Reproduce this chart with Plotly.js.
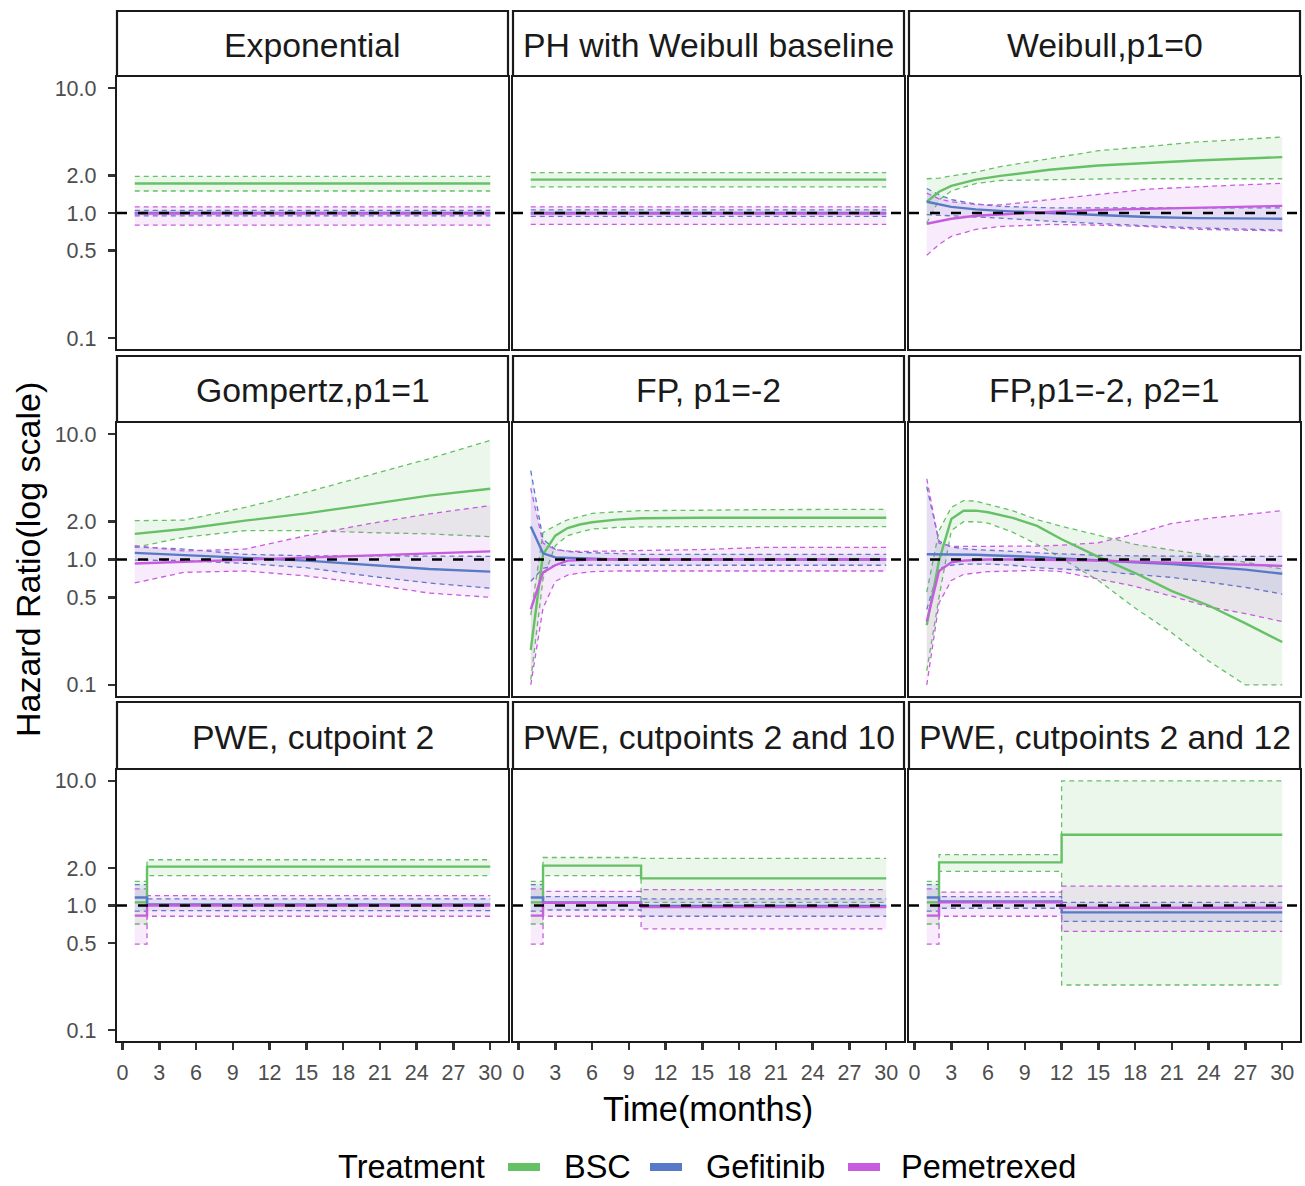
<!DOCTYPE html>
<html>
<head>
<meta charset="utf-8">
<script src="https://cdn.plot.ly/plotly-3.0.1.min.js"></script>
<style>html,body{margin:0;padding:0;background:#fff;}#chart{width:1305px;height:1186px;}</style>
</head>
<body>
<div id="chart"></div>
<script>
// ---------------- DATA ----------------
const panelTitles = ['Exponential', 'PH with Weibull baseline', 'Weibull,p1=0',
  'Gompertz,p1=1', 'FP, p1=-2', 'FP,p1=-2, p2=1',
  'PWE, cutpoint 2', 'PWE, cutpoints 2 and 10', 'PWE, cutpoints 2 and 12'];
const treatments = ['BSC', 'Gefitinib', 'Pemetrexed'];
const xTicks = [0, 3, 6, 9, 12, 15, 18, 21, 24, 27, 30];
const yTickVals = [0.1, 0.5, 1, 2, 10];
const yTickText = ['0.1', '0.5', '1.0', '2.0', '10.0'];
const refHR = 1;

// Exponential
const expoTime = [1, 30];
const expoBSC = [1.72, 1.72], expoBSCLo = [1.50, 1.50], expoBSCHi = [1.96, 1.96];
const expoGef = [1.00, 1.00], expoGefLo = [0.95, 0.95], expoGefHi = [1.05, 1.05];
const expoPem = [0.99, 0.99], expoPemLo = [0.80, 0.80], expoPemHi = [1.12, 1.12];

// PH with Weibull baseline
const phwTime = [1, 30];
const phwBSC = [1.85, 1.85], phwBSCLo = [1.62, 1.62], phwBSCHi = [2.10, 2.10];
const phwGef = [1.00, 1.00], phwGefLo = [0.94, 0.94], phwGefHi = [1.06, 1.06];
const phwPem = [0.99, 0.99], phwPemLo = [0.81, 0.81], phwPemHi = [1.12, 1.12];

// Weibull, p1=0
const weibTime = [1, 2, 3, 5, 7, 11, 15, 19, 23, 30];
const weibBSC   = [1.23, 1.48, 1.65, 1.85, 1.98, 2.22, 2.40, 2.52, 2.63, 2.80];
const weibBSCLo = [0.83, 1.27, 1.50, 1.72, 1.82, 1.85, 1.87, 1.88, 1.88, 1.88];
const weibBSCHi = [1.88, 1.90, 1.98, 2.12, 2.35, 2.72, 3.15, 3.40, 3.70, 4.05];
const weibGef   = [1.23, 1.17, 1.12, 1.07, 1.04, 1.00, 0.96, 0.93, 0.91, 0.90];
const weibGefLo = [0.97, 0.96, 0.95, 0.93, 0.91, 0.86, 0.82, 0.79, 0.76, 0.73];
const weibGefHi = [1.57, 1.40, 1.28, 1.18, 1.13, 1.10, 1.10, 1.10, 1.10, 1.10];
const weibPem   = [0.82, 0.86, 0.90, 0.95, 0.975, 1.02, 1.06, 1.08, 1.10, 1.14];
const weibPemLo = [0.46, 0.56, 0.65, 0.74, 0.78, 0.81, 0.80, 0.78, 0.74, 0.72];
const weibPemHi = [1.44, 1.30, 1.23, 1.17, 1.16, 1.28, 1.42, 1.55, 1.62, 1.73];

// Gompertz, p1=1
const gompTime = [1, 5, 10, 15, 20, 25, 30];
const gompBSC   = [1.60, 1.75, 2.04, 2.33, 2.74, 3.23, 3.66];
const gompBSCLo = [1.25, 1.50, 1.70, 1.70, 1.64, 1.60, 1.52];
const gompBSCHi = [2.04, 2.06, 2.60, 3.44, 4.67, 6.35, 8.90];
const gompGef   = [1.13, 1.08, 1.03, 0.98, 0.906, 0.84, 0.80];
const gompGefLo = [0.99, 0.98, 0.93, 0.86, 0.74, 0.65, 0.59];
const gompGefHi = [1.26, 1.21, 1.10, 1.07, 1.07, 1.06, 1.06];
const gompPem   = [0.93, 0.96, 1.00, 1.04, 1.08, 1.13, 1.16];
const gompPemLo = [0.65, 0.79, 0.81, 0.74, 0.64, 0.54, 0.50];
const gompPemHi = [1.29, 1.17, 1.21, 1.55, 1.92, 2.31, 2.69];

// FP, p1=-2
const fp1Time = [1, 2, 3, 4, 5, 6, 8, 10, 15, 20, 30];
const fp1BSC   = [0.19, 1.10, 1.55, 1.78, 1.90, 1.98, 2.08, 2.13, 2.15, 2.15, 2.15];
const fp1BSCLo = [0.11, 0.70, 1.29, 1.55, 1.65, 1.75, 1.80, 1.82, 1.83, 1.83, 1.83];
const fp1BSCHi = [0.36, 1.64, 1.86, 2.07, 2.20, 2.33, 2.40, 2.45, 2.47, 2.50, 2.51];
const fp1Gef   = [1.83, 1.12, 1.04, 1.03, 1.02, 1.01, 1.00, 1.00, 1.00, 1.00, 1.00];
const fp1GefLo = [0.67, 0.85, 0.90, 0.90, 0.90, 0.90, 0.90, 0.90, 0.90, 0.90, 0.90];
const fp1GefHi = [5.10, 1.45, 1.20, 1.16, 1.14, 1.13, 1.11, 1.10, 1.10, 1.10, 1.10];
const fp1Pem   = [0.40, 0.79, 0.90, 0.98, 0.99, 1.00, 1.00, 1.00, 1.00, 1.00, 1.00];
const fp1PemLo = [0.10, 0.41, 0.67, 0.75, 0.78, 0.80, 0.81, 0.81, 0.81, 0.81, 0.81];
const fp1PemHi = [3.70, 1.35, 1.20, 1.17, 1.16, 1.16, 1.17, 1.18, 1.20, 1.25, 1.25];

// FP, p1=-2, p2=1
const fp2Time = [1, 2, 3, 4, 5, 6, 8, 10, 12, 15, 18, 21, 24, 27, 30];
const fp2BSC   = [0.30, 0.98, 2.10, 2.45, 2.45, 2.38, 2.15, 1.85, 1.45, 1.05, 0.78, 0.56, 0.43, 0.31, 0.22];
const fp2BSCLo = [0.13, 0.50, 1.70, 2.00, 2.00, 1.95, 1.65, 1.32, 1.02, 0.68, 0.41, 0.26, 0.155, 0.10, 0.10];
const fp2BSCHi = [0.55, 1.70, 2.60, 2.95, 2.92, 2.75, 2.45, 2.08, 1.84, 1.56, 1.32, 1.19, 1.08, 0.95, 0.84];
const fp2Gef   = [1.10, 1.10, 1.10, 1.10, 1.09, 1.08, 1.07, 1.05, 1.02, 0.98, 0.95, 0.92, 0.88, 0.83, 0.77];
const fp2GefLo = [0.40, 0.85, 0.90, 0.92, 0.92, 0.92, 0.90, 0.86, 0.84, 0.81, 0.76, 0.72, 0.66, 0.60, 0.53];
const fp2GefHi = [3.80, 1.40, 1.26, 1.22, 1.20, 1.19, 1.16, 1.13, 1.11, 1.08, 1.07, 1.06, 1.06, 1.06, 1.06];
const fp2Pem   = [0.32, 0.81, 0.95, 0.98, 0.99, 1.00, 1.00, 1.00, 0.99, 0.98, 0.96, 0.95, 0.93, 0.91, 0.89];
const fp2PemLo = [0.10, 0.45, 0.68, 0.76, 0.78, 0.80, 0.81, 0.82, 0.80, 0.70, 0.61, 0.51, 0.42, 0.37, 0.32];
const fp2PemHi = [4.40, 1.35, 1.27, 1.27, 1.28, 1.28, 1.28, 1.28, 1.30, 1.36, 1.60, 1.94, 2.13, 2.27, 2.45];

// PWE, cutpoint 2
const pwe1Time = [1, 2, 30];
const pwe1BSC = [1.06, 2.05, 2.05], pwe1BSCLo = [0.71, 1.74, 1.74], pwe1BSCHi = [1.56, 2.33, 2.33];
const pwe1Gef = [1.16, 1.02, 1.02], pwe1GefLo = [0.90, 0.91, 0.91], pwe1GefHi = [1.47, 1.13, 1.13];
const pwe1Pem = [0.83, 1.00, 1.00], pwe1PemLo = [0.49, 0.82, 0.82], pwe1PemHi = [1.36, 1.20, 1.20];

// PWE, cutpoints 2 and 10
const pwe2Time = [1, 2, 10, 30];
const pwe2BSC = [1.06, 2.09, 1.65, 1.65], pwe2BSCLo = [0.71, 1.74, 1.06, 1.06], pwe2BSCHi = [1.56, 2.43, 2.39, 2.39];
const pwe2Gef = [1.16, 1.06, 0.99, 0.99], pwe2GefLo = [0.90, 0.92, 0.82, 0.82], pwe2GefHi = [1.47, 1.18, 1.13, 1.13];
const pwe2Pem = [0.83, 1.05, 0.97, 0.97], pwe2PemLo = [0.49, 0.82, 0.65, 0.65], pwe2PemHi = [1.36, 1.30, 1.34, 1.34];

// PWE, cutpoints 2 and 12
const pwe3Time = [1, 2, 12, 30];
const pwe3BSC = [1.06, 2.22, 3.70, 3.70], pwe3BSCLo = [0.71, 1.88, 0.23, 0.23], pwe3BSCHi = [1.56, 2.56, 10.0, 10.0];
const pwe3Gef = [1.16, 1.08, 0.88, 0.88], pwe3GefLo = [0.90, 0.95, 0.745, 0.745], pwe3GefHi = [1.47, 1.18, 1.06, 1.06];
const pwe3Pem = [0.83, 1.06, 0.96, 0.96], pwe3PemLo = [0.49, 0.82, 0.62, 0.62], pwe3PemHi = [1.36, 1.28, 1.43, 1.43];

// ---------------- ASSEMBLY ----------------
const panels = [
  {t: expoTime, step: false, s: [[expoBSC, expoBSCLo, expoBSCHi], [expoGef, expoGefLo, expoGefHi], [expoPem, expoPemLo, expoPemHi]]},
  {t: phwTime, step: false, s: [[phwBSC, phwBSCLo, phwBSCHi], [phwGef, phwGefLo, phwGefHi], [phwPem, phwPemLo, phwPemHi]]},
  {t: weibTime, step: false, s: [[weibBSC, weibBSCLo, weibBSCHi], [weibGef, weibGefLo, weibGefHi], [weibPem, weibPemLo, weibPemHi]]},
  {t: gompTime, step: false, s: [[gompBSC, gompBSCLo, gompBSCHi], [gompGef, gompGefLo, gompGefHi], [gompPem, gompPemLo, gompPemHi]]},
  {t: fp1Time, step: false, s: [[fp1BSC, fp1BSCLo, fp1BSCHi], [fp1Gef, fp1GefLo, fp1GefHi], [fp1Pem, fp1PemLo, fp1PemHi]]},
  {t: fp2Time, step: false, s: [[fp2BSC, fp2BSCLo, fp2BSCHi], [fp2Gef, fp2GefLo, fp2GefHi], [fp2Pem, fp2PemLo, fp2PemHi]]},
  {t: pwe1Time, step: true, s: [[pwe1BSC, pwe1BSCLo, pwe1BSCHi], [pwe1Gef, pwe1GefLo, pwe1GefHi], [pwe1Pem, pwe1PemLo, pwe1PemHi]]},
  {t: pwe2Time, step: true, s: [[pwe2BSC, pwe2BSCLo, pwe2BSCHi], [pwe2Gef, pwe2GefLo, pwe2GefHi], [pwe2Pem, pwe2PemLo, pwe2PemHi]]},
  {t: pwe3Time, step: true, s: [[pwe3BSC, pwe3BSCLo, pwe3BSCHi], [pwe3Gef, pwe3GefLo, pwe3GefHi], [pwe3Pem, pwe3PemLo, pwe3PemHi]]}
];

const lineColors = ['rgb(102,192,102)', 'rgb(88,122,198)', 'rgb(199,92,222)'];
const fillColors = ['rgba(102,192,102,0.12)', 'rgba(88,122,198,0.12)', 'rgba(199,92,222,0.12)'];

const W = 1305, H = 1186;
const px = v => v / W;
const py = v => 1 - v / H;
const colX = [[117, 508], [513, 904], [909, 1300]];
const rowY = [[77, 349], [423, 696], [770, 1041]];
const stripY = [[11, 76], [356, 422], [702, 769]];
const xRange = [-0.45, 31.45];
const yRange = [-1.088, 1.088];
const FONT = '"Liberation Sans", Arial, sans-serif';

const traces = [];
const layout = {
  width: W, height: H,
  margin: {l: 0, r: 0, t: 0, b: 0},
  paper_bgcolor: '#ffffff', plot_bgcolor: '#ffffff',
  showlegend: false,
  font: {family: FONT, color: '#000'},
  shapes: [], annotations: []
};

panels.forEach((p, i) => {
  const k = i + 1;
  const xa = k === 1 ? 'x' : 'x' + k;
  const ya = k === 1 ? 'y' : 'y' + k;
  const row = Math.floor(i / 3), col = i % 3;
  const shape = p.step ? 'hv' : 'linear';
  // ribbons + dashed bounds
  p.s.forEach((ser, j) => {
    traces.push({x: p.t, y: ser[1], xaxis: xa, yaxis: ya, type: 'scatter', mode: 'lines',
      line: {color: lineColors[j], width: 1.3, dash: '5px,4px', shape: shape}, hoverinfo: 'skip'});
    traces.push({x: p.t, y: ser[2], xaxis: xa, yaxis: ya, type: 'scatter', mode: 'lines',
      fill: 'tonexty', fillcolor: fillColors[j],
      line: {color: lineColors[j], width: 1.3, dash: '5px,4px', shape: shape}, hoverinfo: 'skip'});
  });
  // estimates
  p.s.forEach((ser, j) => {
    traces.push({x: p.t, y: ser[0], xaxis: xa, yaxis: ya, type: 'scatter', mode: 'lines', name: treatments[j],
      line: {color: lineColors[j], width: 2.4, shape: shape}});
  });
  // reference line HR = 1
  traces.push({x: xRange, y: [refHR, refHR], xaxis: xa, yaxis: ya, type: 'scatter', mode: 'lines',
    line: {color: '#000', width: 2.4, dash: '10px,11px'}, hoverinfo: 'skip'});

  const xName = k === 1 ? 'xaxis' : 'xaxis' + k;
  const yName = k === 1 ? 'yaxis' : 'yaxis' + k;
  layout[xName] = {
    domain: [px(colX[col][0]), px(colX[col][1])], anchor: ya,
    range: xRange, tickvals: xTicks, ticktext: xTicks.map(String),
    showticklabels: row === 2, ticks: row === 2 ? 'outside' : '',
    ticklen: 7, tickwidth: 2.5, tickcolor: '#333',
    ticklabelstandoff: 4,
    tickfont: {family: FONT, size: 21.5, color: '#4D4D4D'},
    showline: true, mirror: true, linecolor: '#1a1a1a', linewidth: 2.2,
    showgrid: false, zeroline: false, fixedrange: true
  };
  layout[yName] = {
    domain: [py(rowY[row][1]), py(rowY[row][0])], anchor: xa,
    type: 'log', range: yRange, tickvals: yTickVals, ticktext: yTickText,
    showticklabels: col === 0, ticks: col === 0 ? 'outside' : '',
    ticklen: 7, tickwidth: 2.5, tickcolor: '#333',
    ticklabelstandoff: 7,
    tickfont: {family: FONT, size: 21.5, color: '#4D4D4D'},
    showline: true, mirror: true, linecolor: '#1a1a1a', linewidth: 2.2,
    showgrid: false, zeroline: false, fixedrange: true
  };
  // strip
  layout.shapes.push({type: 'rect', xref: 'paper', yref: 'paper',
    x0: px(colX[col][0]), x1: px(colX[col][1]), y0: py(stripY[row][1]), y1: py(stripY[row][0]),
    line: {color: '#1a1a1a', width: 2.2}, fillcolor: '#ffffff', layer: 'below'});
  layout.annotations.push({xref: 'paper', yref: 'paper',
    x: px((colX[col][0] + colX[col][1]) / 2), y: py((stripY[row][0] + stripY[row][1]) / 2 + 1.5),
    text: panelTitles[i], showarrow: false, xanchor: 'center', yanchor: 'middle',
    font: {family: FONT, size: 33.8, color: '#1a1a1a'}});
});

// axis titles
layout.annotations.push({xref: 'paper', yref: 'paper', x: px(708), y: py(1109),
  text: 'Time(months)', showarrow: false, xanchor: 'center', yanchor: 'middle',
  font: {family: FONT, size: 34.3, color: '#000'}});
layout.annotations.push({xref: 'paper', yref: 'paper', x: px(28), y: py(560),
  text: 'Hazard Ratio(log scale)', textangle: -90, showarrow: false, xanchor: 'center', yanchor: 'middle',
  font: {family: FONT, size: 34, color: '#000'}});

// legend (manual, ggplot style)
const legY = 1167;
layout.annotations.push({xref: 'paper', yref: 'paper', x: px(337), y: py(legY),
  text: 'Treatment', showarrow: false, xanchor: 'left', yanchor: 'middle', borderpad: 0,
  font: {family: FONT, size: 32.5, color: '#000'}});
const keyX = [508, 650, 848];
const labX = [563, 705, 900];
treatments.forEach((tr, j) => {
  layout.shapes.push({type: 'rect', xref: 'paper', yref: 'paper',
    x0: px(keyX[j]), x1: px(keyX[j] + 32), y0: py(legY + 4), y1: py(legY - 4),
    line: {width: 0}, fillcolor: lineColors[j]});
  layout.annotations.push({xref: 'paper', yref: 'paper', x: px(labX[j]), y: py(legY),
    text: tr, showarrow: false, xanchor: 'left', yanchor: 'middle', borderpad: 0,
    font: {family: FONT, size: 32.5, color: '#000'}});
});

Plotly.newPlot('chart', traces, layout, {staticPlot: true, displayModeBar: false});
</script>
</body>
</html>
